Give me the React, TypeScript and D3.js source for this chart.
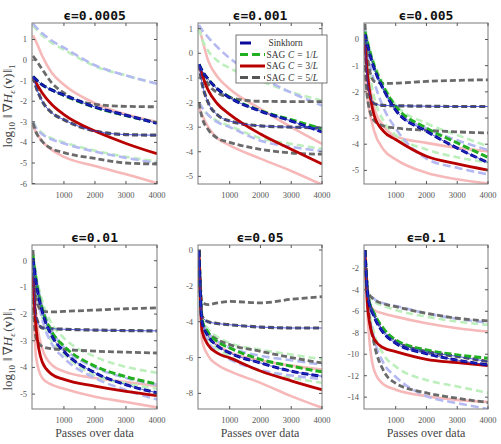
import React from 'react';
import * as d3 from 'd3';

// passes over data at which each curve is sampled
const passes = [0, 100, 300, 600, 1000, 2000, 3000, 4000];

const titles = ['ϵ=0.0005', 'ϵ=0.001', 'ϵ=0.005', 'ϵ=0.01', 'ϵ=0.05', 'ϵ=0.1'];
const legendLabels = ['Sinkhorn', '1/L', '3/L', '5/L'];
const xTicks = [1000, 2000, 3000, 4000];

// log10 gradient norm; rows per method: upper band, median, lower band
// order: Sinkhorn, SAG C=1/L, SAG C=3/L, SAG C=5/L
const eps0005 = [
  [1.77, 1.6, 1.3, 0.95, 0.6, -0.25, -0.75, -1.15],
  [-0.8, -0.95, -1.2, -1.45, -1.7, -2.28, -2.68, -3.07],
  [-3.0, -3.3, -3.6, -3.85, -4.05, -4.45, -4.75, -5.0],
  [1.7, 1.5, 1.2, 0.85, 0.5, -0.3, -0.75, -1.15],
  [-0.8, -0.95, -1.2, -1.45, -1.72, -2.3, -2.7, -3.05],
  [-3.0, -3.25, -3.55, -3.8, -4.0, -4.4, -4.7, -4.92],
  [1.2, 0.9, 0.2, -0.6, -1.2, -2.1, -2.65, -3.0],
  [-0.8, -1.1, -1.6, -2.15, -2.65, -3.45, -4.05, -4.55],
  [-3.2, -3.5, -3.95, -4.35, -4.7, -5.15, -5.55, -5.98],
  [0.2, 0.0, -0.45, -1.1, -1.6, -2.15, -2.25, -2.27],
  [-0.8, -1.3, -2.0, -2.55, -2.9, -3.45, -3.62, -3.65],
  [-3.05, -3.5, -3.95, -4.3, -4.5, -4.78, -5.0, -5.05],
];

const eps001 = [
  [1.15, 0.95, 0.65, 0.25, -0.2, -0.97, -1.6, -2.12],
  [-0.45, -0.7, -1.05, -1.45, -1.8, -2.35, -2.75, -3.2],
  [-2.0, -2.2, -2.5, -2.8, -3.0, -3.55, -3.8, -3.97],
  [1.0, 0.6, 0.1, -0.3, -0.6, -1.12, -1.58, -1.92],
  [-0.45, -0.7, -1.05, -1.45, -1.78, -2.33, -2.7, -3.07],
  [-2.0, -2.2, -2.5, -2.75, -2.95, -3.45, -3.68, -3.88],
  [1.1, 0.6, -0.3, -0.95, -1.45, -2.26, -3.0, -3.68],
  [-0.45, -0.85, -1.5, -2.05, -2.48, -3.28, -3.9, -4.5],
  [-2.2, -2.5, -3.0, -3.45, -3.74, -4.28, -4.78, -5.34],
  [-0.45, -0.75, -1.25, -1.6, -1.8, -1.95, -1.96, -1.96],
  [-0.45, -1.2, -2.0, -2.5, -2.75, -2.95, -3.0, -3.03],
  [-2.0, -2.6, -3.1, -3.45, -3.62, -3.9, -4.05, -4.1],
];

const eps005 = [
  [0.4, -0.2, -1.1, -1.9, -2.7, -3.4, -3.85, -4.22],
  [0.2, -0.3, -1.1, -1.9, -2.7, -3.5, -4.15, -4.7],
  [0.0, -0.6, -1.6, -2.6, -3.4, -4.55, -4.9, -5.15],
  [0.5, -0.1, -0.9, -1.7, -2.5, -3.2, -3.65, -4.08],
  [0.3, -0.2, -1.0, -1.8, -2.55, -3.38, -3.95, -4.5],
  [0.0, -0.9, -2.2, -3.1, -3.65, -4.2, -4.5, -4.7],
  [-0.3, -1.3, -2.6, -3.3, -3.7, -3.95, -4.14, -4.27],
  [-0.2, -1.5, -2.9, -3.5, -3.82, -4.46, -4.75, -4.99],
  [-1.4, -2.4, -3.5, -4.2, -4.58, -5.09, -5.34, -5.5],
  [0.6, -0.8, -1.6, -1.68, -1.67, -1.6, -1.56, -1.54],
  [0.0, -1.8, -2.45, -2.52, -2.53, -2.55, -2.56, -2.56],
  [-1.0, -2.4, -3.1, -3.3, -3.38, -3.47, -3.53, -3.57],
];

const eps01 = [
  [0.2, -0.6, -1.7, -2.6, -3.25, -4.0, -4.4, -4.65],
  [0.1, -0.8, -1.9, -2.8, -3.4, -4.2, -4.65, -4.95],
  [0.0, -1.0, -2.2, -3.1, -3.65, -4.4, -4.85, -5.2],
  [0.3, -0.5, -1.5, -2.35, -2.9, -3.6, -3.98, -4.2],
  [0.2, -0.7, -1.8, -2.65, -3.2, -3.95, -4.35, -4.62],
  [0.0, -0.9, -2.1, -3.0, -3.5, -4.3, -4.6, -4.8],
  [-0.3, -2.0, -3.3, -3.9, -4.15, -4.4, -4.55, -4.7],
  [-0.6, -2.5, -3.8, -4.25, -4.45, -4.7, -4.9, -5.06],
  [-1.2, -3.6, -4.4, -4.65, -4.8, -5.1, -5.3, -5.5],
  [0.4, -1.4, -1.9, -1.92, -1.9, -1.85, -1.8, -1.77],
  [-0.1, -2.1, -2.52, -2.55, -2.57, -2.6, -2.62, -2.63],
  [-1.4, -2.9, -3.22, -3.3, -3.33, -3.39, -3.43, -3.46],
];

const eps05 = [
  [0.0, -3.9, -4.6, -5.1, -5.45, -5.9, -6.15, -6.4],
  [0.0, -4.0, -4.8, -5.35, -5.74, -6.3, -6.76, -7.04],
  [0.0, -4.2, -5.1, -5.7, -6.1, -6.7, -7.0, -7.2],
  [0.0, -3.8, -4.4, -4.85, -5.19, -5.56, -5.83, -6.1],
  [0.0, -3.9, -4.6, -5.1, -5.46, -6.1, -6.48, -6.8],
  [0.0, -4.1, -4.9, -5.5, -5.93, -6.76, -7.13, -7.41],
  [0.0, -4.0, -4.8, -5.3, -5.7, -6.15, -6.45, -6.67],
  [0.0, -4.5, -5.3, -5.75, -6.02, -6.75, -7.3, -7.8],
  [0.0, -5.0, -5.9, -6.4, -6.76, -7.41, -8.15, -8.8],
  [0.0, -2.9, -3.05, -2.95, -2.87, -2.95, -2.75, -2.6],
  [0.0, -3.7, -4.0, -4.1, -4.17, -4.3, -4.35, -4.35],
  [0.0, -4.0, -4.6, -5.0, -5.28, -5.65, -6.0, -6.3],
];

const eps1 = [
  [-0.3, -4.2, -4.85, -5.25, -5.5, -6.2, -6.7, -7.05],
  [-0.3, -4.7, -6.5, -8.0, -8.98, -9.95, -10.55, -11.0],
  [-0.3, -5.0, -8.5, -10.8, -12.1, -13.9, -14.55, -15.1],
  [-0.3, -4.4, -5.1, -5.5, -5.88, -6.5, -6.96, -7.27],
  [-0.3, -4.6, -6.2, -7.6, -8.67, -9.6, -10.06, -10.37],
  [-0.3, -5.0, -8.0, -10.0, -11.15, -12.4, -13.0, -13.6],
  [-0.3, -5.0, -5.9, -6.2, -6.5, -7.12, -7.58, -7.89],
  [-0.3, -6.0, -8.6, -9.4, -9.75, -10.47, -10.78, -11.05],
  [-0.3, -7.0, -11.5, -12.8, -13.3, -13.9, -14.25, -14.45],
  [-0.3, -4.2, -4.9, -5.3, -5.57, -6.19, -6.65, -6.9],
  [-0.3, -4.6, -6.3, -7.8, -8.8, -9.75, -10.2, -10.68],
  [-0.3, -5.2, -9.0, -11.5, -12.7, -13.6, -14.1, -14.5],
];

const panelData = [eps0005, eps001, eps005, eps01, eps05, eps1];
const yTicksList = [
  [1, 0, -1, -2, -3, -4, -5, -6],
  [1, 0, -1, -2, -3, -4, -5],
  [0, -1, -2, -3, -4, -5],
  [0, -1, -2, -3, -4, -5],
  [0, -2, -4, -6, -8],
  [-2, -4, -6, -8, -10, -12, -14],
];
const yDomains = [
  [-6.02, 1.8],
  [-5.31, 1.23],
  [-5.52, 0.63],
  [-5.56, 0.59],
  [-8.87, 0.28],
  [-15.1, 0.17],
];

// plot frames
const frames = [
  { x0: 32, x1: 157, y0: 23, y1: 184 },
  { x0: 198, x1: 322, y0: 23, y1: 184 },
  { x0: 364, x1: 488, y0: 23, y1: 184 },
  { x0: 32, x1: 157, y0: 245, y1: 409 },
  { x0: 198, x1: 322, y0: 245, y1: 409 },
  { x0: 364, x1: 488, y0: 245, y1: 409 },
];

const bandStyle = [
  { stroke: '#b4b9f2', dash: '8,4', width: 2.6 },
  { stroke: '#bdefbd', dash: '7,4', width: 2.6 },
  { stroke: '#f6b8b8', dash: null, width: 2.6 },
  { stroke: '#6a6a6a', dash: '6,3', width: 2.8 },
];
const midStyle = [
  { stroke: '#0a0a9a', dash: '7,3', width: 3 },
  { stroke: '#22b022', dash: '7,3', width: 3 },
  { stroke: '#b80000', dash: null, width: 2.8 },
  { stroke: '#555555', dash: '6,3', width: 3.2 },
];

const serif = '"Liberation Serif", "DejaVu Serif", serif';

function Panel({ idx }: { idx: number }) {
  const f = frames[idx];
  const rows = panelData[idx];
  const x = d3.scaleLinear().domain([-30, 4000]).range([f.x0, f.x1]);
  const y = d3.scaleLinear().domain(yDomains[idx]).range([f.y1, f.y0]);
  const line = d3
    .line<number>()
    .x((_, i) => x(passes[i]))
    .y((d) => y(d))
    .curve(d3.curveMonotoneX);
  const clipId = `clip-${idx}`;
  const bandOrder = [2, 1, 0, 3];
  const midOrder = [3, 2, 1, 0];

  return (
    <g>
      <defs>
        <clipPath id={clipId}>
          <rect x={f.x0} y={f.y0} width={f.x1 - f.x0} height={f.y1 - f.y0} />
        </clipPath>
      </defs>
      <rect x={f.x0} y={f.y0} width={f.x1 - f.x0} height={f.y1 - f.y0} fill="#fff" />
      <g clipPath={`url(#${clipId})`} fill="none" strokeLinejoin="round">
        {bandOrder.map((m) =>
          [0, 2].map((r) => (
            <path
              key={`b${m}${r}`}
              d={line(rows[m * 3 + r]) ?? ''}
              stroke={bandStyle[m].stroke}
              strokeWidth={bandStyle[m].width}
              strokeDasharray={bandStyle[m].dash ?? undefined}
            />
          ))
        )}
        {midOrder.map((m) => (
          <path
            key={`m${m}`}
            d={line(rows[m * 3 + 1]) ?? ''}
            stroke={midStyle[m].stroke}
            strokeWidth={midStyle[m].width}
            strokeDasharray={midStyle[m].dash ?? undefined}
          />
        ))}
        {/* thin solid traces through the Sinkhorn and C=5/L medians */}
        {[0, 3].map((m) => (
          <path key={`t${m}`} d={line(rows[m * 3 + 1]) ?? ''} stroke="#2a36d0" strokeWidth={0.8} />
        ))}
      </g>
      <rect
        x={f.x0}
        y={f.y0}
        width={f.x1 - f.x0}
        height={f.y1 - f.y0}
        fill="none"
        stroke="#7a7a7a"
        strokeWidth={1}
      />
      {xTicks.map((t) => (
        <g key={`xt${t}`}>
          <line x1={x(t)} x2={x(t)} y1={f.y1} y2={f.y1 - 3} stroke="#555" />
          <line x1={x(t)} x2={x(t)} y1={f.y0} y2={f.y0 + 3} stroke="#555" />
          <text
            x={x(t)}
            y={f.y1 + 14}
            textAnchor="middle"
            fontFamily={serif}
            fontSize={8.5}
            fill="#555"
          >
            {t}
          </text>
        </g>
      ))}
      {yTicksList[idx].map((t) => (
        <g key={`yt${t}`}>
          <line x1={f.x0} x2={f.x0 + 3} y1={y(t)} y2={y(t)} stroke="#555" />
          <line x1={f.x1} x2={f.x1 - 3} y1={y(t)} y2={y(t)} stroke="#555" />
          <text
            x={f.x0 - 5}
            y={y(t) + 3}
            textAnchor="end"
            fontFamily={serif}
            fontSize={8.5}
            fill="#555"
          >
            {t}
          </text>
        </g>
      ))}
      <text
        x={(f.x0 + f.x1) / 2}
        y={f.y0 - 3.5}
        textAnchor="middle"
        fontFamily='"DejaVu Sans Mono", monospace'
        fontWeight="bold"
        fontSize={13}
        fill="#111"
      >
        {titles[idx]}
      </text>
      {idx >= 3 && (
        <text
          x={(f.x0 + f.x1) / 2}
          y={437}
          textAnchor="middle"
          fontFamily={serif}
          fontSize={12}
          fill="#444"
        >
          Passes over data
        </text>
      )}
    </g>
  );
}

function YLabel({ cy }: { cy: number }) {
  return (
    <text
      transform={`translate(12,${cy}) rotate(-90)`}
      textAnchor="middle"
      fontFamily={serif}
      fontSize={13}
      fill="#444"
    >
      log
      <tspan dy={3} fontSize={9}>10</tspan>
      <tspan dy={-3} dx={4}>‖</tspan>
      <tspan dx={2}>∇</tspan>
      <tspan fontStyle="italic">H</tspan>
      <tspan dy={3} fontSize={9} fontStyle="italic">ε</tspan>
      <tspan dy={-3} dx={1.5}>(</tspan>
      <tspan fontWeight="bold">v</tspan>
      <tspan>)</tspan>
      <tspan dx={1}>‖</tspan>
      <tspan dy={3} fontSize={9}>1</tspan>
    </text>
  );
}

function Legend() {
  const rowsY = [43, 54.5, 66, 77.5];
  const dashes = ['11,16', '8,4', null, '8,4'];
  return (
    <g>
      <rect x={236} y={35} width={91} height={48} fill="#fff" stroke="#555" strokeWidth={0.8} />
      {legendLabels.map((lab, i) => (
        <g key={lab}>
          <line
            x1={240}
            x2={265}
            y1={rowsY[i]}
            y2={rowsY[i]}
            stroke={midStyle[i].stroke}
            strokeWidth={3}
            strokeDasharray={dashes[i] ?? undefined}
          />
          <text x={266.5} y={rowsY[i] + 3} fontFamily={serif} fontSize={9.3} fill="#333">
            {i === 0 ? (
              <tspan dx={2}>{lab}</tspan>
            ) : (
              <>
                SAG
                <tspan dx={3} fontStyle="italic">C</tspan>
                <tspan dx={3}>=</tspan>
                <tspan dx={3}>{lab.split('/')[0]}/</tspan>
                <tspan fontStyle="italic">L</tspan>
              </>
            )}
          </text>
        </g>
      ))}
    </g>
  );
}

export default function App() {
  return (
    <svg
      width={501}
      height={444}
      style={{ position: 'absolute', left: 0, top: 0, background: '#fff' }}
    >
      {frames.map((_, i) => (
        <Panel key={i} idx={i} />
      ))}
      <YLabel cy={106} />
      <YLabel cy={349} />
      <Legend />
    </svg>
  );
}
